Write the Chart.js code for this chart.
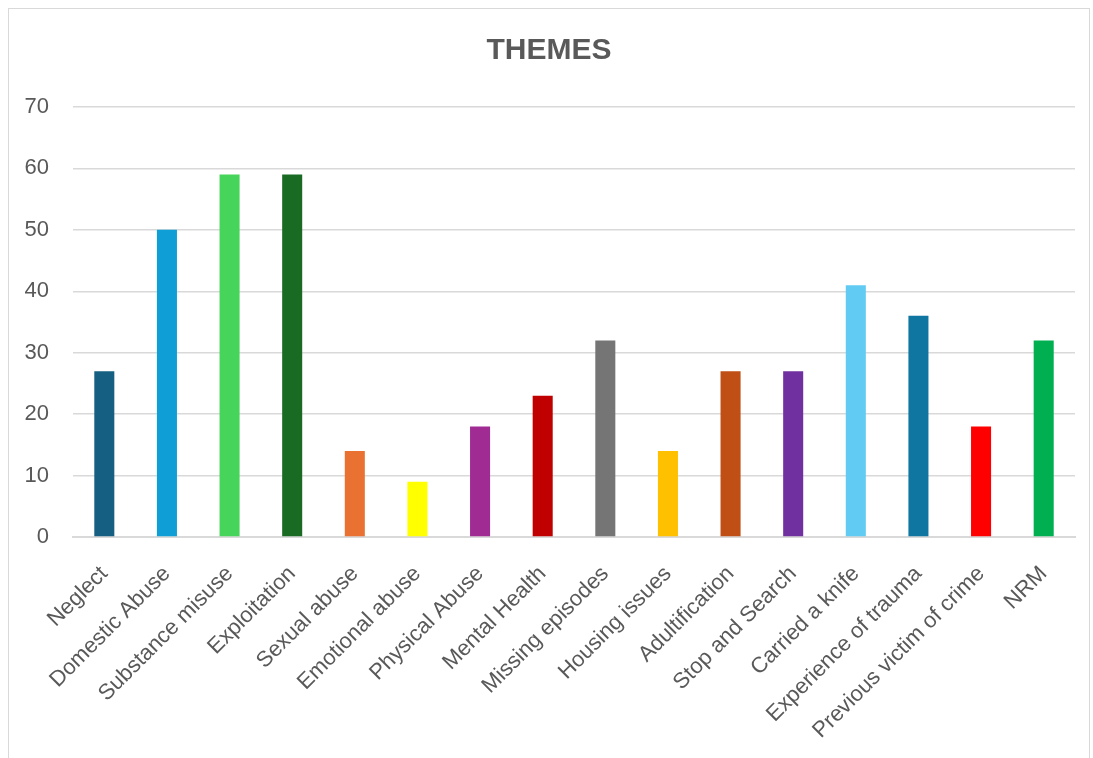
<!DOCTYPE html>
<html>
<head>
<meta charset="utf-8">
<script src="https://cdn.jsdelivr.net/npm/chart.js@4"></script>
<style>
    html, body { margin: 0; padding: 0; background: #fff; overflow: hidden; }
    #frame {
        position: absolute; left: 8px; top: 8px; width: 1082px; height: 770px;
        border: 1.5px solid #d9d9d9; box-sizing: border-box;
    }
    #wrap { position: absolute; left: 0; top: 0; width: 1093px; height: 758px; }
</style>
</head>
<body>
<div id="frame"></div>
<div id="wrap"><canvas id="themesChart" width="1093" height="758"></canvas></div>
<script>
const categories = ['Neglect', 'Domestic Abuse', 'Substance misuse', 'Exploitation', 'Sexual abuse',
    'Emotional abuse', 'Physical Abuse', 'Mental Health', 'Missing episodes', 'Housing issues',
    'Adultification', 'Stop and Search', 'Carried a knife', 'Experience of trauma',
    'Previous victim of crime', 'NRM'];
const counts = [27, 50, 59, 59, 14, 9, 18, 23, 32, 14, 27, 27, 41, 36, 18, 32];
const barColors = ['#156082', '#0f9ed5', '#47d45a', '#196b24', '#e97132', '#ffff00', '#a02b93',
    '#c00000', '#757575', '#ffc000', '#c04f15', '#7030a0', '#61cbf3', '#0e76a0', '#ff0000', '#00b050'];
const yTicks = [0, 10, 20, 30, 40, 50, 60, 70];

const fontFamily = "'Liberation Sans', Arial, sans-serif";
const textColor = '#595959';

const ctx = document.getElementById('themesChart').getContext('2d');
new Chart(ctx, {
    type: 'bar',
    data: {
        labels: categories,
        datasets: [{
            data: counts,
            backgroundColor: barColors,
            borderWidth: 0,
            barPercentage: 0.32,
            categoryPercentage: 1
        }]
    },
    options: {
        responsive: false,
        animation: false,
        // left padding keeps the title centred on the frame
        layout: { padding: { left: 23, right: 18, top: 0, bottom: 0 } },
        plugins: {
            legend: { display: false },
            tooltip: { enabled: false },
            title: {
                display: true,
                text: 'THEMES',
                color: textColor,
                font: { family: fontFamily, size: 30, weight: 'bold' },
                padding: { top: 33, bottom: 38 }
            }
        },
        scales: {
            x: {
                grid: { display: false, drawTicks: false },
                border: { display: true, color: '#d9d9d9', width: 2 },
                ticks: {
                    color: textColor,
                    font: { family: fontFamily, size: 22 },
                    maxRotation: 45,
                    minRotation: 45,
                    padding: 24,
                    autoSkip: false
                },
                afterFit: (scale) => { scale.height = 221; }
            },
            y: {
                min: 0,
                max: 70,
                afterBuildTicks: (scale) => { scale.ticks = yTicks.map(v => ({ value: v })); },
                grid: { color: '#d9d9d9', lineWidth: 1.5, drawTicks: false },
                border: { display: false },
                ticks: {
                    color: textColor,
                    font: { family: fontFamily, size: 22 },
                    padding: 24
                },
                afterFit: (scale) => { scale.width = 50; }
            }
        }
    }
});
</script>
</body>
</html>
